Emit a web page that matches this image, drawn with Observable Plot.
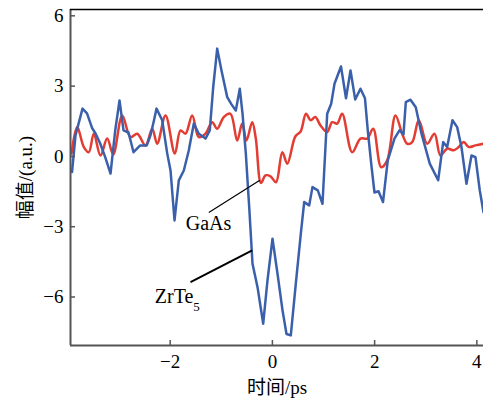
<!DOCTYPE html>
<html><head><meta charset="utf-8">
<script src="https://cdn.jsdelivr.net/npm/d3@7"></script>
<script src="https://cdn.jsdelivr.net/npm/@observablehq/plot@0.6"></script>
<style>body{margin:0;background:#fff}</style>
</head><body><div id="chart"></div>
<script>
// ZrTe5 (blue) trace
const zrTe5Time = [-3.920,-3.852,-3.715,-3.627,-3.525,-3.460,-3.369,-3.271,-3.167,-3.075,-2.991,-2.913,-2.815,-2.717,-2.586,-2.457,-2.385,-2.326,-2.267,-2.156,-2.058,-1.993,-1.915,-1.831,-1.733,-1.635,-1.538,-1.440,-1.309,-1.225,-1.158,-1.080,-0.996,-0.884,-0.800,-0.716,-0.638,-0.585,-0.520,-0.454,-0.389,-0.291,-0.180,-0.096,0.002,0.100,0.198,0.276,0.360,0.458,0.556,0.622,0.720,0.784,0.888,0.980,1.072,1.150,1.215,1.342,1.440,1.528,1.620,1.723,1.811,1.866,1.933,1.997,2.076,2.164,2.257,2.388,2.486,2.565,2.610,2.701,2.805,2.917,3.079,3.243,3.341,3.419,3.523,3.615,3.699,3.797,3.895,3.973,4.057,4.130];
const zrTe5Amp = [-0.67,0.90,2.04,1.84,1.20,0.98,0.55,-0.03,-0.73,1.11,2.39,1.11,1.02,0.18,0.47,0.47,0.90,1.45,2.04,1.54,0.13,-0.60,-2.73,-1.02,-0.60,0.26,1.40,0.97,0.76,1.11,2.96,4.60,3.67,2.53,2.22,1.96,2.89,1.84,0.13,-2.16,-4.58,-5.58,-7.14,-5.29,-3.51,-5.01,-6.57,-7.58,-7.64,-5.43,-3.30,-1.95,-2.09,-1.31,-1.45,-2.02,1.82,2.25,3.10,3.84,2.48,3.67,2.43,2.89,2.48,1.11,-0.31,-1.54,-1.49,-1.95,-0.17,0.76,1.11,0.94,2.32,2.42,2.10,0.97,-0.31,-1.02,0.61,0.40,1.54,1.25,0.40,-1.17,0.04,-0.03,-1.45,-2.38];
// GaAs (red) trace
const gaAsTime = [-3.930,-3.818,-3.689,-3.592,-3.494,-3.363,-3.232,-3.114,-2.938,-2.776,-2.645,-2.482,-2.351,-2.254,-2.091,-1.909,-1.798,-1.700,-1.569,-1.440,-1.309,-1.178,-1.080,-0.951,-0.820,-0.689,-0.591,-0.507,-0.395,-0.325,-0.223,-0.135,-0.037,0.070,0.194,0.291,0.448,0.554,0.657,0.749,0.839,0.941,1.072,1.170,1.268,1.365,1.561,1.723,1.854,1.972,2.128,2.246,2.408,2.539,2.637,2.735,2.864,3.028,3.171,3.288,3.419,3.549,3.646,3.744,3.842,3.973,4.130];
const gaAsAmp = [0.12,1.25,0.40,0.18,0.97,0.04,0.76,0.09,1.75,0.82,0.97,0.47,1.18,0.54,1.75,0.12,1.11,0.97,1.75,0.82,0.97,1.46,1.18,1.68,1.82,0.68,1.40,0.68,1.46,0.77,-1.13,-0.81,-0.85,-1.10,0.18,-0.31,0.85,1.07,1.82,1.54,1.68,1.32,1.04,1.46,1.40,1.82,0.18,0.76,0.76,1.18,-0.46,-0.17,1.75,0.97,0.54,0.61,1.54,0.54,0.97,0.04,0.33,0.26,0.40,0.61,0.40,0.47,0.54];

const xTicks = [-2, 0, 2, 4];
const yTicks = [-6, -3, 0, 3, 6];
const xDomain = [-3.95, 4.13];
const yDomain = [-8.07, 6.27];
const xLabel = "时间/ps";
const yLabel = "幅值/(a.u.)";

// annotations
const annoText = ["GaAs", "ZrTe"];
const annoX = [-1.25, -1.86];
const annoY = [-2.86, -5.98];
const leadX1 = [-1.244, -1.602];
const leadY1 = [-2.39, -5.365];
const leadX2 = [-0.246, -0.395];
const leadY2 = [-1.02, -4.01];
const leadWidth = [1.2, 2];

const blue = "#3b60ab";
const red = "#e23c33";
const font = "'Liberation Serif', 'Noto Sans CJK SC', serif";

const zr = zrTe5Time.map((t, i) => ({t, v: zrTe5Amp[i]}));
const ga = gaAsTime.map((t, i) => ({t, v: gaAsAmp[i]}));
const anno = annoText.map((s, i) => ({s, x: annoX[i], y: annoY[i]}));
const leads = leadX1.map((x1, i) => ({x1, y1: leadY1[i], x2: leadX2[i], y2: leadY2[i], w: leadWidth[i]}));

const fmt = d => d < 0 ? "\u2212" + Math.abs(d) : String(d);

const plot = Plot.plot({
  width: 483,
  height: 400,
  marginLeft: 70,
  marginRight: 0,
  marginTop: 9,
  marginBottom: 55,
  style: {fontFamily: font, fontSize: "19px", background: "#fff", color: "#000", overflow: "visible"},
  x: {domain: xDomain},
  y: {domain: yDomain},
  marks: [
    Plot.line(ga, {x: "t", y: "v", stroke: red, strokeWidth: 2.5, curve: "catmull-rom", clip: true}),
    Plot.line(zr, {x: "t", y: "v", stroke: blue, strokeWidth: 2.5, clip: true}),
    Plot.link(leads, {x1: "x1", y1: "y1", x2: "x2", y2: "y2", stroke: "#000", strokeWidth: "w"}),
    Plot.text(anno, {x: "x", y: "y", text: "s", fontSize: 20, fill: "#000"}),
    Plot.ruleX([xDomain[0]], {stroke: "#555", strokeWidth: 2}),
    Plot.ruleY([yDomain[0]], {stroke: "#555", strokeWidth: 2}),
    Plot.ruleY([yDomain[1]], {stroke: "#000", strokeWidth: 1.5}),
    Plot.axisY({ticks: yTicks, tickSize: -5, tickPadding: 12, tickFormat: fmt, stroke: "#555", strokeWidth: 1.5,
      label: yLabel, labelAnchor: "center", labelOffset: 52, labelArrow: "none", fontSize: 19}),
    Plot.axisX({ticks: xTicks, tickSize: -5, tickPadding: 14, tickFormat: fmt, stroke: "#555", strokeWidth: 1.5,
      label: xLabel, labelAnchor: "center", labelOffset: 48, labelArrow: "none", fontSize: 19})
  ]
});

// subscript 5 on ZrTe
d3.select(plot).selectAll("text").filter(function() { return this.textContent === "ZrTe"; })
  .append("tspan").attr("baseline-shift", "sub").attr("font-size", "13px").text("5");

document.getElementById("chart").appendChild(plot);
</script>
</body></html>
